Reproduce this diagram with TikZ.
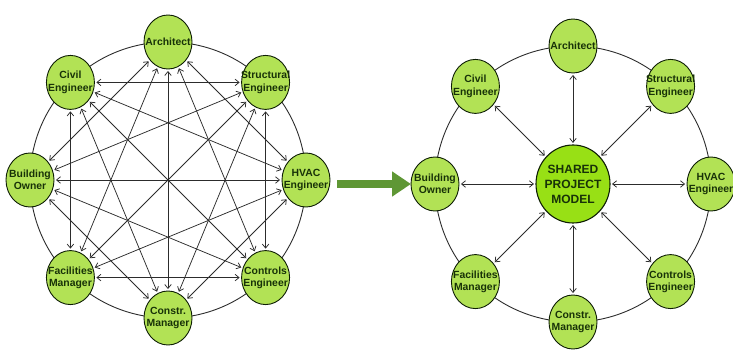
\documentclass[tikz,border=0pt]{standalone}
\usepackage{fontspec}
\setmainfont{Liberation Sans}
\usetikzlibrary{shapes.geometric, arrows.meta}
\definecolor{leafgreen}{HTML}{B2E255}
\definecolor{limegreen}{HTML}{98E015}
\definecolor{inkgreen}{HTML}{183208}
\definecolor{wire}{HTML}{2C2C2C}
\definecolor{olivegreen}{HTML}{5F9735}

\begin{document}
\begin{tikzpicture}[x=1pt, y=1pt,
    member/.style={ellipse, draw=inkgreen!60!black, line width=0.9pt, fill=leafgreen,
      minimum width=48pt, minimum height=54pt, inner sep=0pt},
    hub/.style={member, fill=limegreen, line width=1.1pt, minimum width=74pt, minimum height=78pt},
    tag/.style={text=inkgreen, font=\fontsize{10.4}{12.4}\selectfont\bfseries, align=center, inner sep=0pt},
    hubtag/.style={tag, font=\fontsize{12}{15}\selectfont\bfseries},
    ring/.style={draw=wire, line width=0.9pt},
    link/.style={draw=wire, line width=0.75pt, <->, >={Straight Barb[length=4pt,width=6.5pt]},
      shorten <=1.5pt, shorten >=1.5pt}]

      \useasboundingbox (0,0) rectangle (733,356);

      \def\R{138}
      \coordinate (lc) at (168,176);
      \coordinate (rc) at (573,172);

      \draw[ring] (lc) circle (\R);
      \draw[ring] (rc) circle (\R);

      \foreach \nm/\ang/\txt in {arch/90/Architect, struc/45/{Structural\\Engineer},
          hvac/0/{HVAC\\Engineer}, ctrl/-45/{Controls\\Engineer}, cons/-90/{Constr.\\Manager},
          fac/-135/{Facilities\\Manager}, own/180/{Building\\Owner}, civ/135/{Civil\\Engineer}}{
        \node[member, label={[tag]center:\txt}] (\nm1) at ([shift={(\ang:\R)}]lc) {};
        \node[member, label={[tag]center:\txt}] (\nm2) at ([shift={(\ang:\R)}]rc) {};
      }

      \node[hub, label={[hubtag]center:SHARED\\PROJECT\\MODEL}] (model) at (rc) {};

      \foreach \a/\b in {arch/hvac, arch/ctrl, arch/cons, arch/fac, arch/own,
          struc/ctrl, struc/cons, struc/fac, struc/own, struc/civ,
          hvac/cons, hvac/fac, hvac/own, hvac/civ,
          ctrl/fac, ctrl/own, ctrl/civ, cons/own, cons/civ, fac/civ}{
        \draw[link] (\a1) -- (\b1);
      }

      \foreach \nm in {arch,struc,hvac,ctrl,cons,fac,own,civ}{
        \draw[link] (\nm2) -- (model);
      }

      \coordinate (gofrom) at (337,172);
      \coordinate (goto) at (411,172);
      \draw[olivegreen, line width=8pt, -{Triangle[length=19pt,width=24pt]}] (gofrom) -- (goto);

    \end{tikzpicture}
\end{document}
